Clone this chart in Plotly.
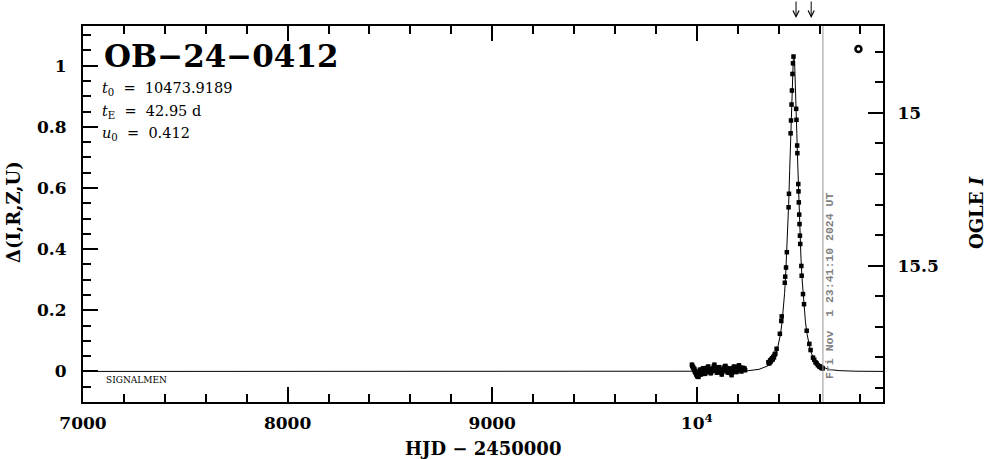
import plotly.graph_objects as go

# ---------------- data ----------------
model_t = [7000, 9500, 9973.9, 10173.9, 10253.9, 10303.9, 10343.9, 10358.9, 10373.9,
           10383.9, 10393.9, 10408.9, 10416.9, 10423.9, 10428.9, 10433.9, 10438.9,
           10443.9, 10448.9, 10453.9, 10456.4, 10458.9, 10461.4, 10463.9, 10466.4,
           10468.9, 10471.4, 10473.9,
           10476.4, 10478.9, 10481.4, 10483.9, 10486.4, 10488.9, 10491.4, 10493.9,
           10498.9, 10503.9, 10508.9, 10513.9, 10518.9, 10523.9, 10530.9, 10538.9,
           10553.9, 10563.9, 10573.9, 10588.9, 10603.9, 10643.9, 10693.9, 10773.9, 10910]
model_d = [0, 0, 0.0001, 0.0008, 0.0027, 0.0069, 0.0172, 0.0255, 0.0391,
           0.0530, 0.0730, 0.1219, 0.1626, 0.2109, 0.2549, 0.3087, 0.3742,
           0.4536, 0.5481, 0.6577, 0.7172, 0.7784, 0.8396, 0.8980, 0.9502,
           0.9920, 1.0192, 1.0290,
           1.0192, 0.9920, 0.9502, 0.8980, 0.8396, 0.7784, 0.7172, 0.6577,
           0.5481, 0.4536, 0.3742, 0.3087, 0.2549, 0.2109, 0.1626, 0.1219,
           0.0730, 0.0530, 0.0391, 0.0255, 0.0172, 0.0069, 0.0027, 0.0008, 0.0]

# OGLE photometry, 2023 season (baseline)
base_t = [9976, 9978, 9981, 9983, 9986, 9988, 9990, 9992, 9994, 9996, 9998, 10000,
          10002, 10004, 10006, 10008, 10010, 10012, 10014, 10016, 10018, 10020, 10023,
          10025, 10028, 10030, 10033, 10035, 10038, 10040, 10043, 10045, 10048, 10050,
          10053, 10056, 10059, 10062, 10065, 10068, 10071, 10074, 10077, 10080, 10083,
          10086, 10089, 10092, 10095, 10098, 10101, 10104, 10107, 10110, 10113, 10116,
          10119, 10122, 10125, 10128, 10131, 10134, 10137, 10140, 10143, 10146, 10149,
          10152, 10155, 10158, 10161, 10164, 10167, 10170, 10173, 10176, 10179, 10182,
          10185, 10188, 10191, 10194, 10197, 10200, 10203, 10206, 10209, 10212, 10215,
          10218, 10221, 10224, 10227, 10230, 10233, 10236]
base_d = [0.022, 0.018, 0.014, 0.012, 0.006, 0.008, 0.000, 0.002, -0.004, -0.006,
          -0.010, -0.012, -0.016, -0.008, -0.014, -0.018, -0.010, -0.004, 0.000, 0.006,
          -0.004, -0.010, -0.006, -0.002, 0.004, 0.010, 0.008, 0.004, -0.002, -0.008,
          -0.004, 0.000, 0.006, 0.012, 0.010, 0.016, 0.008, 0.004, -0.002, -0.006,
          -0.002, 0.002, 0.006, 0.010, 0.016, 0.022, 0.014, 0.008, 0.002, -0.004,
          0.000, 0.006, 0.010, 0.014, 0.006, 0.000, -0.004, -0.010, -0.002, 0.004,
          0.008, 0.012, 0.016, 0.018, 0.012, 0.006, 0.000, -0.004, 0.004, 0.010,
          0.006, 0.002, -0.006, -0.012, -0.004, 0.006, 0.012, 0.016, 0.010, 0.004,
          0.000, -0.002, 0.004, 0.010, 0.016, 0.020, 0.014, 0.008, 0.004, 0.000,
          0.006, 0.012, 0.008, 0.006, 0.010, 0.004]

# OGLE photometry, 2024 season (event)
event_t = [10350, 10353, 10355, 10358, 10360, 10362, 10365, 10368, 10371, 10374, 10377,
           10380, 10384, 10390, 10406, 10413, 10415, 10430, 10432, 10436, 10440,
           10448.5, 10450.5, 10458.5, 10460.5, 10463.0, 10465.0, 10467.5, 10470.0, 10472.5,
           10485.5, 10487.0, 10490.5, 10491.5, 10496.0, 10497.0, 10498.5, 10500.5,
           10502.0, 10504.0, 10505.5, 10511.0, 10512.5, 10519.0, 10524.0, 10537.0,
           10550.0, 10556.0, 10568.0, 10574.0, 10580.0, 10586.0, 10592.0, 10600.0,
           10604.0, 10608.0, 10612.0, 10615.0]
event_d = [0.030, 0.026, 0.028, 0.036, 0.032, 0.034, 0.040, 0.043, 0.039, 0.048, 0.046,
           0.055, 0.058, 0.074, 0.123, 0.165, 0.180, 0.290, 0.310, 0.340, 0.390,
           0.537, 0.581, 0.779, 0.821, 0.873, 0.919, 0.973, 1.008, 1.030,
           0.859, 0.823, 0.739, 0.714, 0.613, 0.589, 0.553, 0.513,
           0.482, 0.444, 0.417, 0.345, 0.313, 0.253, 0.220, 0.133,
           0.090, 0.070, 0.045, 0.038, 0.030, 0.026, 0.020, 0.015,
           0.016, 0.012, 0.011, 0.010]

marker_t = [10790]
marker_d = [1.055]

arrow_t = [10485, 10559]
now_t = 10616.49
now_label = "Fri Nov\u00a0\u00a01 23:41:10 2024 UT"

x_ticks = [7000, 8000, 9000, 10000]
x_ticktext = ["7000", "8000", "9000", "10<sup>4</sup>"]
y_range = [-0.1, 1.13]
mag_zero = 15.846

event_name = "OB\u221224\u22120412"
NB = "\u00a0"
params = ["<i>t</i><sub>0</sub>" + NB * 2 + "=" + NB * 2 + "10473.9189",
          "<i>t</i><sub>E</sub>" + NB * 2 + "=" + NB * 2 + "42.95" + NB + "d",
          "<i>u</i><sub>0</sub>" + NB * 2 + "=" + NB * 2 + "0.412"]

# ---------------- figure ----------------
SERIF = "DejaVu Serif"
PLOT_TOP, PLOT_BOT = 26, 402
def py(pix):
    return (PLOT_BOT - pix) / (PLOT_BOT - PLOT_TOP)

fig = go.Figure()

fig.add_trace(go.Scatter(x=model_t, y=model_d, mode="lines",
                         line=dict(color="black", width=1), hoverinfo="skip"))
fig.add_trace(go.Scatter(x=base_t + event_t, y=base_d + event_d, mode="markers",
                         marker=dict(symbol="square", size=4.5, color="black"),
                         error_y=dict(type="constant", value=0.007, thickness=1.5,
                                      width=0, color="black")))
fig.add_trace(go.Scatter(x=marker_t, y=marker_d, mode="markers",
                         marker=dict(symbol="circle-open", size=6, color="black",
                                     line=dict(width=2.5, color="black"))))
# invisible trace on y2 to activate the magnitude axis
fig.add_trace(go.Scatter(x=[7000], y=[mag_zero], yaxis="y2", mode="markers",
                         marker=dict(opacity=0), hoverinfo="skip"))

fig.add_vline(x=now_t, line=dict(color="#9a9a9a", width=1))

ann = []
ann.append(dict(text=event_name, x=0.024, y=py(56), xref="paper", yref="paper",
                xanchor="left", yanchor="middle", showarrow=False,
                font=dict(family=SERIF, size=31, color="black", weight="bold")))
for i, p in enumerate(params):
    ann.append(dict(text=p, x=0.021, y=py(89 + 22.5 * i), xref="paper",
                    yref="paper", xanchor="left", yanchor="middle", showarrow=False,
                    font=dict(family=SERIF, size=14.5, color="black")))
ann.append(dict(text="SIGNALMEN", x=0.026, y=py(380), xref="paper", yref="paper",
                xanchor="left", yanchor="middle", showarrow=False,
                font=dict(family=SERIF, size=9, color="black")))
ann.append(dict(text=now_label, x=now_t, y=py(286), xref="x", yref="paper",
                xshift=6, xanchor="center", yanchor="middle", textangle=-90,
                showarrow=False,
                font=dict(family="Liberation Mono", size=11.5, color="#808080", weight="bold")))
for t in arrow_t:
    ann.append(dict(text="", x=t, y=py(18), xref="x", yref="paper", ax=0, ay=-18,
                    showarrow=True, arrowhead=5, arrowsize=1.2, arrowwidth=1,
                    arrowcolor="black"))
title_font = dict(family=SERIF, size=18, color="black", weight="bold")
ann.append(dict(text="HJD \u2212 2450000", x=0.5, y=py(448), xref="paper", yref="paper",
                xanchor="center", yanchor="middle", showarrow=False, font=title_font))
ann.append(dict(text="\u0394(I,R,Z,U)", x=-(83 - 13) / 800, y=py(212), xref="paper",
                yref="paper", xanchor="center", yanchor="middle", textangle=-90,
                showarrow=False, font=title_font))
ann.append(dict(text="OGLE <i>I</i>", x=(976 - 83) / 800, y=py(213), xref="paper",
                yref="paper", xanchor="center", yanchor="middle", textangle=-90,
                showarrow=False, font=title_font))

tickfont = dict(family=SERIF, size=17, color="black", weight="bold")
fig.update_layout(
    width=986, height=459,
    margin=dict(l=83, r=103, t=PLOT_TOP, b=459 - PLOT_BOT),
    paper_bgcolor="white", plot_bgcolor="white",
    showlegend=False,
    annotations=ann,
    xaxis=dict(range=[7000, 10910], tickmode="array", tickvals=x_ticks,
               ticktext=x_ticktext, ticks="inside", ticklen=15, tickwidth=2,
               tickcolor="black", showline=True, linewidth=2, linecolor="black",
               mirror="ticks", showgrid=False, zeroline=False, tickfont=tickfont,
               ticklabelstandoff=5, automargin=False,
               minor=dict(dtick=200, tick0=7000, ticks="inside", ticklen=8,
                          tickwidth=2, tickcolor="black", showgrid=False)),
    yaxis=dict(range=y_range, dtick=0.2, tick0=0, ticks="inside", ticklen=15,
               tickwidth=2, tickcolor="black", showline=True, linewidth=2,
               linecolor="black", mirror=False, showgrid=False, zeroline=False,
               tickfont=tickfont, ticklabelstandoff=11, automargin=False,
               minor=dict(dtick=0.05, tick0=0, ticks="inside", ticklen=8,
                          tickwidth=2, tickcolor="black", showgrid=False)),
    yaxis2=dict(overlaying="y", side="right",
                range=[mag_zero - y_range[0], mag_zero - y_range[1]],
                dtick=0.5, tick0=15, ticks="inside", ticklen=15, tickwidth=2,
                tickcolor="black", showline=True, linewidth=2, linecolor="black",
                showgrid=False, zeroline=False, tickfont=tickfont, ticklabelstandoff=9,
                automargin=False,
                minor=dict(dtick=0.1, tick0=15, ticks="inside", ticklen=8,
                           tickwidth=2, tickcolor="black", showgrid=False)),
)

fig.write_html("out.html", config={"displayModeBar": False},
               post_script="document.body.style.margin='0';")
